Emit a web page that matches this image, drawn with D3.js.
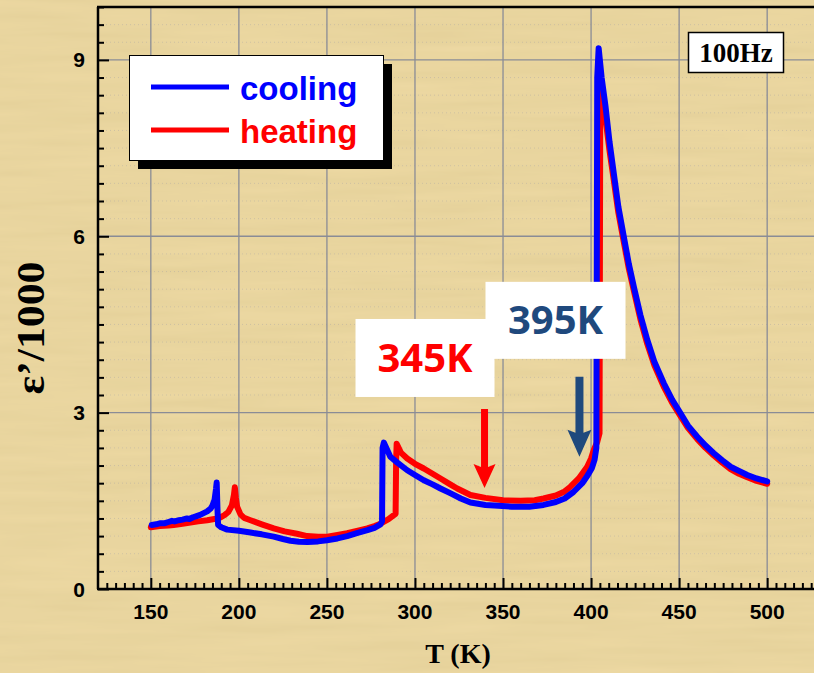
<!DOCTYPE html>
<html>
<head>
<meta charset="utf-8">
<script src="https://cdn.jsdelivr.net/npm/d3@7"></script>
<style>
  body { margin: 0; background: #e8d39b; }
  svg { display: block; }
</style>
</head>
<body>
<div id="chart"></div>
<script>
// data (T in K, eps'/1000)
const coolingT = [150.5,153,155.5,158,160,162,163.5,166,168,170.5,172,174,176,178,180,182,184,185,186.2,187,187.4,187.8,188.2,190,193.4,200,206.6,213,219.8,225,229.3,234,239,245,250,256,261.5,267,273,277,280.4,281.3,281.6,282.3,284,286,290,295.6,300,305,310,314.5,320,326,331.5,340,345,355,365,373,380,385,390,395,398,400.5,402,403,403.5,404.3,406,408.2,410.5,412.9,415.5,418.6,421.5,424.3,428,431.9,436,441.3,446,450.8,455,460.3,465,469.7,474.5,479.2,484,488.7,494,500];
const coolingE = [1.09,1.10,1.12,1.12,1.14,1.16,1.15,1.17,1.18,1.20,1.19,1.22,1.24,1.26,1.29,1.32,1.37,1.42,1.52,1.70,1.81,1.40,1.09,1.05,1.01,0.99,0.96,0.93,0.89,0.85,0.82,0.805,0.80,0.81,0.83,0.86,0.90,0.95,1.00,1.04,1.10,1.15,2.40,2.49,2.38,2.25,2.15,2.02,1.94,1.85,1.78,1.71,1.63,1.54,1.47,1.43,1.42,1.40,1.40,1.43,1.48,1.54,1.65,1.80,1.93,2.06,2.20,2.40,8.70,9.20,8.70,8.21,7.60,7.07,6.50,5.99,5.52,5.14,4.66,4.24,3.86,3.50,3.22,2.99,2.78,2.59,2.44,2.31,2.19,2.08,2.01,1.94,1.88,1.83];

const heatingT = [150,155,160,163,168,172.5,177,182,186,189.6,192,194,196,197.2,197.7,198.3,199,200.9,203,206.6,213,219.8,226,233,238.8,245,250.2,256,261.5,267,272.9,277,280.4,285,289,289.3,289.6,292,295.6,300,305,310,314.5,320,324,331.5,340,350,360,368,373,380,385,388.3,393,397.8,400,401.6,403.5,404.8,405.2,405.7,408.2,410.5,412.9,415.5,418.6,421.5,424.3,428,431.9,436,441.3,446,450.8,455,460.3,465,469.7,474.5,479.2,484,488.7,494,500];
const heatingE = [1.05,1.07,1.08,1.09,1.11,1.13,1.15,1.17,1.19,1.22,1.26,1.31,1.42,1.60,1.73,1.55,1.40,1.27,1.21,1.17,1.10,1.03,0.98,0.94,0.90,0.89,0.89,0.92,0.95,0.99,1.03,1.07,1.11,1.19,1.28,2.20,2.47,2.32,2.22,2.13,2.05,1.96,1.88,1.78,1.71,1.60,1.55,1.51,1.50,1.51,1.54,1.59,1.66,1.74,1.88,2.08,2.22,2.37,2.50,2.65,8.00,8.50,8.00,7.45,6.95,6.40,5.90,5.44,5.07,4.59,4.17,3.80,3.44,3.17,2.94,2.74,2.55,2.40,2.27,2.15,2.04,1.96,1.90,1.84,1.79];

const xTicks = [150, 200, 250, 300, 350, 400, 450, 500];
const yTicks = [0, 3, 6, 9];
const seriesNames = ["cooling", "heating"];
const seriesColors = ["#0000ff", "#ff0000"];
const freqLabel = "100Hz";

// arrows + labels for the two transition temperatures
const markLabels = ["345K", "395K"];
const markColors = ["#ff0000", "#1f497d"];
const markT = [339.5, 393.4];
const markFrom = [3.06, 3.61];
const markTo = [1.72, 2.25];
const labelT = [305.7, 379.8];
const labelE = [3.93, 4.57];

const W = 814, H = 673;
const x = d3.scaleLinear().domain([120, 530]).range([98, 820]);
const y = d3.scaleLinear().domain([0, 9.9]).range([589, 7]);

const svg = d3.select("#chart").append("svg")
    .attr("width", W)
    .attr("height", H);

// parchment-like background
const defs = svg.append("defs");
const f = defs.append("filter").attr("id", "paper")
    .attr("x", 0).attr("y", 0).attr("width", 1).attr("height", 1);
f.append("feTurbulence")
    .attr("type", "fractalNoise")
    .attr("baseFrequency", "0.006 0.09")
    .attr("numOctaves", 3)
    .attr("seed", 7);
f.append("feColorMatrix")
    .attr("type", "matrix")
    .attr("values", "0 0 0 0 0.62  0 0 0 0 0.50  0 0 0 0 0.22  0 0 0 0.35 -0.05");
f.append("feComposite").attr("in2", "SourceGraphic").attr("operator", "over");

svg.append("rect")
    .attr("width", W).attr("height", H)
    .attr("fill", "#ecd8a2")
    .attr("filter", "url(#paper)");

// faint dotted minor grid
const g = svg.append("g");
g.selectAll(".ydot")
    .data(d3.range(0.3, 9.9, 0.3).filter(v => Math.abs(v / 3 - Math.round(v / 3)) > 0.01))
    .enter().append("line")
    .attr("x1", x(120)).attr("x2", W)
    .attr("y1", d => y(d)).attr("y2", d => y(d))
    .attr("stroke", "#9a9aa8").attr("stroke-opacity", 0.35)
    .attr("stroke-width", 1).attr("stroke-dasharray", "1,3");

// major grid
g.selectAll(".xgrid")
    .data(xTicks)
    .enter().append("line")
    .attr("x1", d => x(d)).attr("x2", d => x(d))
    .attr("y1", y(9.9)).attr("y2", y(0))
    .attr("stroke", "#8a8c96").attr("stroke-width", 1.3);

g.selectAll(".ygrid")
    .data(yTicks.filter(d => d > 0))
    .enter().append("line")
    .attr("x1", x(120)).attr("x2", W)
    .attr("y1", d => y(d)).attr("y2", d => y(d))
    .attr("stroke", "#8a8c96").attr("stroke-width", 1.3);

// axes, ticks pointing inward
const xMinor = d3.range(125, 531, 5).filter(d => d % 50 !== 0);
const yMinor = d3.range(0.3, 9.91, 0.3).filter(v => Math.abs(v / 3 - Math.round(v / 3)) > 0.01);

svg.append("g")
    .attr("transform", `translate(0,${y(0)})`)
    .call(d3.axisTop(x).tickValues(xMinor).tickSize(6).tickFormat(""))
    .call(a => a.select(".domain").remove())
    .selectAll("line").attr("stroke", "#000").attr("stroke-width", 2);

svg.append("g")
    .attr("transform", `translate(0,${y(0)})`)
    .call(d3.axisTop(x).tickValues(xTicks).tickSize(11).tickFormat(""))
    .call(a => a.select(".domain").remove())
    .selectAll("line").attr("stroke", "#000").attr("stroke-width", 2);

svg.append("g").selectAll("text")
    .data(xTicks)
    .enter().append("text")
    .attr("x", d => x(d))
    .attr("y", 619)
    .attr("text-anchor", "middle")
    .style("font-family", "'Liberation Sans', Arial, sans-serif")
    .style("font-weight", "bold")
    .style("font-size", "21px")
    .text(d => d);

svg.append("g")
    .attr("transform", `translate(${x(120)},0)`)
    .call(d3.axisRight(y).tickValues(yMinor).tickSize(6).tickFormat(""))
    .call(a => a.select(".domain").remove())
    .selectAll("line").attr("stroke", "#000").attr("stroke-width", 2);

svg.append("g")
    .attr("transform", `translate(${x(120)},0)`)
    .call(d3.axisRight(y).tickValues(yTicks).tickSize(11).tickFormat(""))
    .call(a => a.select(".domain").remove())
    .selectAll("line").attr("stroke", "#000").attr("stroke-width", 2);

svg.append("g").selectAll("text")
    .data(yTicks)
    .enter().append("text")
    .attr("x", 85)
    .attr("y", d => y(d) + 7.5)
    .attr("text-anchor", "end")
    .style("font-family", "'Liberation Sans', Arial, sans-serif")
    .style("font-weight", "bold")
    .style("font-size", "21px")
    .text(d => d);

// frame: left axis, bottom axis, top border
svg.append("line")
    .attr("x1", x(120)).attr("x2", x(120))
    .attr("y1", y(9.9)).attr("y2", y(0))
    .attr("stroke", "#000").attr("stroke-width", 2.5);
svg.append("line")
    .attr("x1", x(120) - 1).attr("x2", W)
    .attr("y1", y(0)).attr("y2", y(0))
    .attr("stroke", "#000").attr("stroke-width", 2.5);
svg.append("line")
    .attr("x1", x(120) - 1).attr("x2", W)
    .attr("y1", y(9.9)).attr("y2", y(9.9))
    .attr("stroke", "#000").attr("stroke-width", 2.5);

// axis titles
svg.append("text")
    .attr("transform", "translate(44,328) rotate(-90)")
    .attr("text-anchor", "middle")
    .attr("textLength", 133)
    .attr("lengthAdjust", "spacingAndGlyphs")
    .style("font-family", "'Liberation Serif', 'Times New Roman', serif")
    .style("font-weight", "bold")
    .style("font-size", "40px")
    .text("ε’/1000");

svg.append("text")
    .attr("x", 458)
    .attr("y", 663)
    .attr("text-anchor", "middle")
    .style("font-family", "'Liberation Serif', 'Times New Roman', serif")
    .style("font-weight", "bold")
    .style("font-size", "28px")
    .text("T (K)");

// curves
const line = d3.line()
    .x(d => x(d[0]))
    .y(d => y(d[1]));

const heating = heatingT.map((t, i) => [t, heatingE[i]]);
const cooling = coolingT.map((t, i) => [t, coolingE[i]]);

svg.append("path")
    .datum(heating)
    .attr("d", line)
    .attr("fill", "none")
    .attr("stroke", seriesColors[1])
    .attr("stroke-width", 6)
    .attr("stroke-linejoin", "round")
    .attr("stroke-linecap", "round");

svg.append("path")
    .datum(cooling)
    .attr("d", line)
    .attr("fill", "none")
    .attr("stroke", seriesColors[0])
    .attr("stroke-width", 6)
    .attr("stroke-linejoin", "round")
    .attr("stroke-linecap", "round");

// annotation boxes
const boxW = [139, 140], boxH = [78, 77];
markLabels.forEach((lab, i) => {
    const cx = x(labelT[i]), cy = y(labelE[i]);
    svg.append("rect")
        .attr("x", cx - boxW[i] / 2).attr("y", cy - boxH[i] / 2)
        .attr("width", boxW[i]).attr("height", boxH[i])
        .attr("fill", "#fff");
});
markLabels.forEach((lab, i) => {
    const cx = x(labelT[i]), cy = y(labelE[i]);
    svg.append("text")
        .attr("x", cx).attr("y", cy + 14)
        .attr("text-anchor", "middle")
        .style("font-family", "'Open Sans', 'Noto Sans', sans-serif")
        .style("font-weight", "bold")
        .style("font-size", "40px")
        .attr("fill", markColors[i])
        .text(lab);
});

// arrows
const shaftW = [7, 8], headW = [22, 24], headL = [21, 24];
markLabels.forEach((lab, i) => {
    const ax = x(markT[i]), y0 = y(markFrom[i]), y1 = y(markTo[i]);
    const hy = y1 - headL[i];
    const pts = [
        [ax - shaftW[i] / 2, y0], [ax + shaftW[i] / 2, y0],
        [ax + shaftW[i] / 2, hy], [ax + headW[i] / 2, hy - 3],
        [ax, y1], [ax - headW[i] / 2, hy - 3],
        [ax - shaftW[i] / 2, hy]
    ];
    svg.append("path")
        .attr("d", "M" + pts.map(p => p.join(",")).join("L") + "Z")
        .attr("fill", markColors[i]);
});

// legend with drop shadow
const lg = svg.append("g");
lg.append("rect")
    .attr("x", 138).attr("y", 64).attr("width", 254).attr("height", 105)
    .attr("fill", "#000");
lg.append("rect")
    .attr("x", 129.5).attr("y", 55.5).attr("width", 254).attr("height", 105)
    .attr("fill", "#fff").attr("stroke", "#000").attr("stroke-width", 1);

seriesNames.forEach((name, i) => {
    const ly = 87 + i * 43;
    lg.append("line")
        .attr("x1", 151).attr("x2", 229)
        .attr("y1", ly).attr("y2", ly)
        .attr("stroke", seriesColors[i]).attr("stroke-width", 5);
    lg.append("text")
        .attr("x", 240).attr("y", ly + 12.5)
        .style("font-family", "'Liberation Sans', Arial, sans-serif")
        .style("font-weight", "bold")
        .style("font-size", "33px")
        .attr("fill", seriesColors[i])
        .text(name);
});

// frequency box
svg.append("rect")
    .attr("x", 688.5).attr("y", 32.5).attr("width", 95).attr("height", 40)
    .attr("fill", "#fff").attr("stroke", "#000").attr("stroke-width", 1.5);
svg.append("text")
    .attr("x", 736).attr("y", 61.5)
    .attr("text-anchor", "middle")
    .style("font-family", "'Liberation Serif', 'Times New Roman', serif")
    .style("font-weight", "bold")
    .style("font-size", "27px")
    .text(freqLabel);
</script>
</body>
</html>
